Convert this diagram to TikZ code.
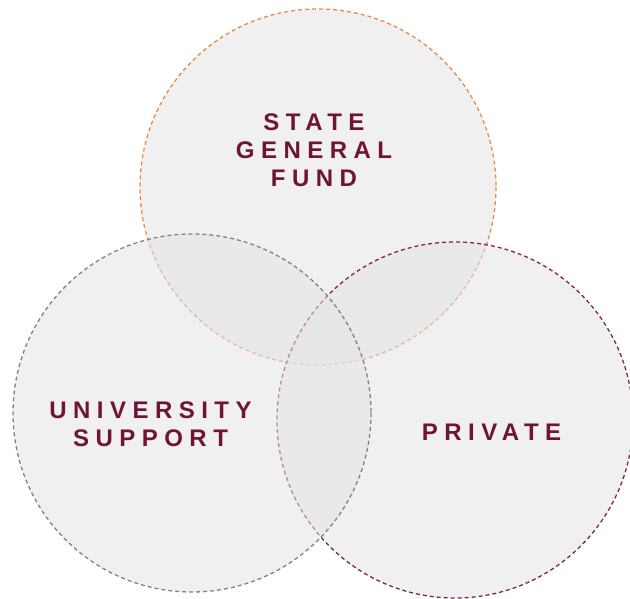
\documentclass[tikz,border=0pt]{standalone}
\usepackage{fontspec}
\newfontfamily\lblfont[LetterSpace=27]{Liberation Sans}
\definecolor{maroon}{RGB}{112,20,54}
\definecolor{vfill}{RGB}{227,227,227}
\definecolor{orangeline}{RGB}{232,140,70}
\definecolor{grayline}{RGB}{130,130,130}
\definecolor{maroonline}{RGB}{125,40,75}
\begin{document}
\begin{tikzpicture}[x=1pt,y=-1pt,
  venn/.style={fill=vfill,fill opacity=0.53,draw opacity=1,line width=1.3pt,dash pattern=on 4pt off 3pt},
  lbl/.style={text=maroon,font=\lblfont\bfseries\fontsize{24}{28}\selectfont,align=center,inner sep=0pt,text opacity=1}]
\useasboundingbox (0,0) rectangle (630,599);
\path[venn,draw=orangeline] (318,187) circle[radius=178];
\path[venn,draw=maroonline] (455,420) circle[radius=178];
\path[venn,draw=grayline] (192,413) circle[radius=179];
\node[lbl] (state) at (314,150) {STATE\\GENERAL\\FUND};
\node[lbl] (univ) at (150.5,424.5) {UNIVERSITY\\SUPPORT};
\node[lbl] (priv) at (491.5,432.5) {PRIVATE};
\end{tikzpicture}
\end{document}
